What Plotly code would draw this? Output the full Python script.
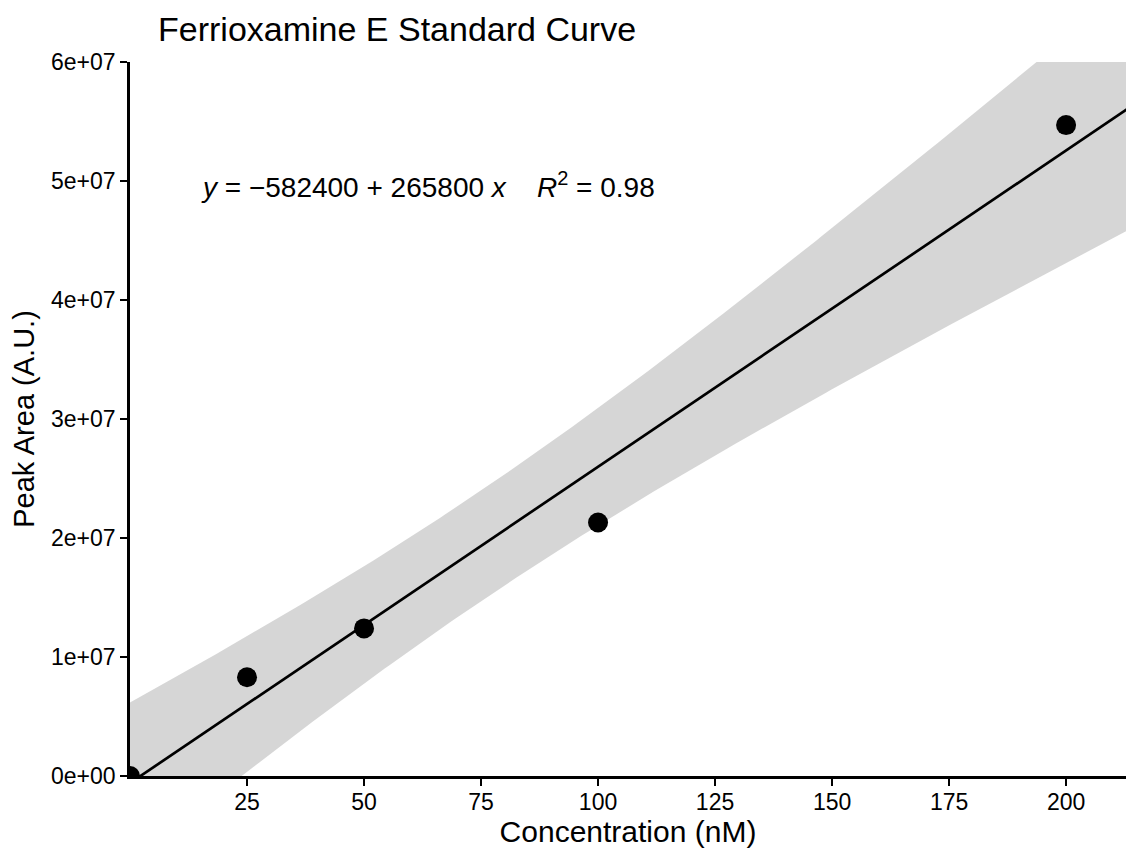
import numpy as np
import plotly.graph_objects as go

# Data
concentration = [0, 25, 50, 100, 200]
peak_area = [0.0, 8.3e6, 12.4e6, 21.3e6, 54.7e6]

x_ticks = [25, 50, 75, 100, 125, 150, 175, 200]
y_ticks = [0, 1e7, 2e7, 3e7, 4e7, 5e7, 6e7]
y_tick_labels = ["0e+00", "1e+07", "2e+07", "3e+07", "4e+07", "5e+07", "6e+07"]

title_text = "Ferrioxamine E Standard Curve"
x_title = "Concentration (nM)"
y_title = "Peak Area (A.U.)"
gap = "&nbsp;" * 4
eq_text = ("<i>y</i> = \u2212582400 + 265800 <i>x</i>" + gap +
           "<i>R</i><sup><span style='font-size:20px'>2</span></sup> = 0.98")

# Linear fit with 95% confidence band (like geom_smooth(method='lm', fullrange=TRUE))
x = np.array(concentration, dtype=float)
y = np.array(peak_area, dtype=float)
n = len(x)
slope, intercept = np.polyfit(x, y, 1)
resid = y - (intercept + slope * x)
s = np.sqrt(np.sum(resid ** 2) / (n - 2))
sxx = np.sum((x - x.mean()) ** 2)
t_crit = 3.182446305284263  # t(0.975, df=3)
xg = np.linspace(0, 216, 200)
fit = intercept + slope * xg
se = s * np.sqrt(1.0 / n + (xg - x.mean()) ** 2 / sxx)
upper = fit + t_crit * se
lower = fit - t_crit * se

fig = go.Figure()
fig.add_trace(go.Scatter(
    x=np.concatenate([xg, xg[::-1]]),
    y=np.concatenate([upper, lower[::-1]]),
    fill="toself", fillcolor="rgba(153,153,153,0.4)",
    line=dict(width=0), mode="lines", hoverinfo="skip", showlegend=False))
fig.add_trace(go.Scatter(x=xg, y=fit, mode="lines",
                         line=dict(color="black", width=2.7), showlegend=False))
fig.add_trace(go.Scatter(x=concentration, y=peak_area, mode="markers",
                         marker=dict(color="black", size=20), showlegend=False))

font_family = "Liberation Sans, Arial, sans-serif"

fig.add_annotation(text=eq_text, xref="paper", yref="paper",
                   x=(199 - 130) / 996, y=(776 - 185) / 714,
                   xanchor="left", yanchor="middle", showarrow=False,
                   font=dict(family=font_family, size=28, color="black"))

fig.update_layout(
    width=1126, height=848,
    margin=dict(l=130, r=0, t=62, b=72),
    paper_bgcolor="white", plot_bgcolor="white",
    font=dict(family=font_family, color="black"),
    title=dict(text=title_text, xref="container", yref="container",
               x=158 / 1126, xanchor="left", y=1 - 29 / 848, yanchor="middle",
               font=dict(size=34, color="black")),
)
fig.update_xaxes(
    range=[0, 212.8], tickvals=x_ticks, ticks="outside", ticklen=7, tickwidth=2,
    tickcolor="black", showline=True, linecolor="black", linewidth=2.5,
    showgrid=False, zeroline=False, tickfont=dict(size=23, color="black"),
    ticklabelstandoff=-3,
    title=dict(text=x_title, font=dict(size=30, color="black"), standoff=2),
)
fig.update_yaxes(
    range=[0, 6e7], tickvals=y_ticks, ticktext=y_tick_labels, ticks="outside",
    ticklen=7, tickwidth=2, tickcolor="black", showline=True, linecolor="black",
    linewidth=2.5, showgrid=False, zeroline=False,
    tickfont=dict(size=23, color="black"),
    title=dict(text=y_title, font=dict(size=29, color="black"), standoff=8),
)

fig.write_html("out.html")
